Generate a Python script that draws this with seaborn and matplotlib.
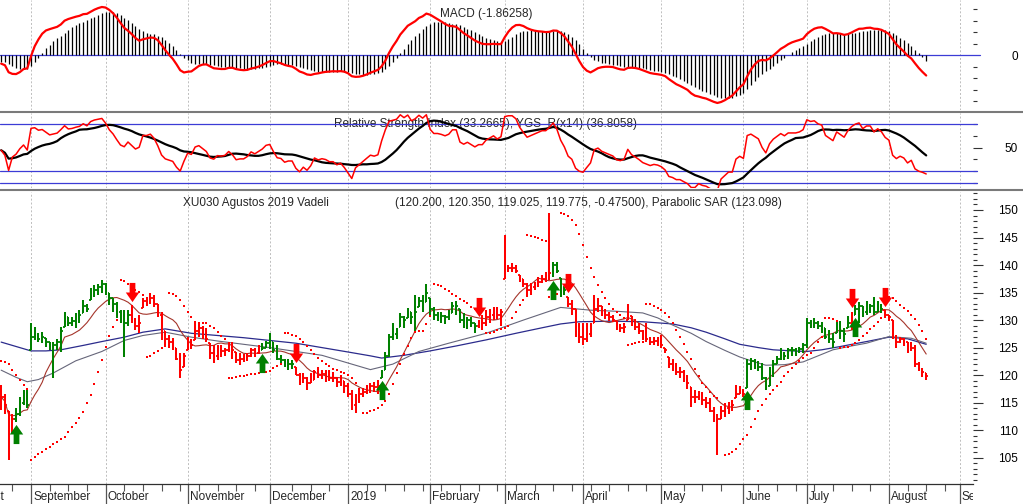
import matplotlib
matplotlib.use("Agg")
import matplotlib.pyplot as plt
import numpy as np
import pandas as pd
import seaborn as sns
from matplotlib.lines import Line2D
from matplotlib.path import Path
from matplotlib.transforms import offset_copy, Bbox, TransformedBbox

# daily bars, XU030 August 2019 future
close = [
    116.0, 114.5, 108.0, 112.0, 113.0, 115.0, 116.5, 114.5, 127.0, 127.5,
    126.5, 127.0, 126.0, 125.0, 125.5, 126.0, 128.0, 130.5, 129.5, 129.8,
    130.5, 131.0, 132.5, 132.0, 134.5, 135.5, 136.0, 136.5, 135.5, 134.0,
    133.0, 131.5, 130.0, 129.5, 131.0, 130.0, 129.0, 129.5, 133.5, 133.5,
    134.0, 133.0, 131.0, 128.0, 126.5, 126.0, 125.5, 123.0, 121.0, 123.5,
    126.0, 125.5, 128.0, 128.5, 127.5, 126.5, 124.0, 123.5, 124.5, 124.3,
    124.5, 125.5, 124.5, 122.8, 123.0, 123.0, 123.5, 124.5, 124.0, 124.5,
    125.0, 125.8, 126.0, 124.5, 123.0, 122.8, 121.8, 122.0, 122.0, 120.0,
    118.8, 119.5, 118.5, 119.2, 120.5, 120.0, 120.2, 120.0, 119.5, 119.5,
    118.8, 119.0, 118.0, 116.5, 114.5, 116.0, 116.5, 117.0, 117.5, 118.0,
    117.8, 118.0, 120.5, 123.5, 127.0, 127.5, 128.0, 130.5, 130.0, 131.5,
    130.5, 131.5, 133.5, 133.0, 135.0, 132.0, 131.0, 131.0, 130.8, 130.5,
    131.0, 132.5, 132.5, 130.0, 129.5, 130.0, 129.5, 129.0, 129.5, 129.5,
    130.5, 131.0, 131.5, 131.0, 131.5, 139.0, 139.5, 139.5, 139.0, 137.5,
    136.5, 135.5, 136.0, 136.5, 137.0, 137.5, 137.5, 138.5, 140.0, 139.0,
    137.0, 135.5, 133.0, 132.0, 128.5, 127.0, 126.5, 127.5, 128.5, 132.0,
    132.5, 131.5, 131.0, 130.5, 130.0, 128.8, 128.5, 128.8, 131.0, 129.5,
    128.8, 128.0, 127.0, 126.5, 126.0, 126.2, 126.0, 125.5, 124.5, 122.0,
    121.5, 120.5, 120.5, 119.5, 118.5, 116.0, 116.0, 116.5, 115.5, 115.0,
    113.5, 112.5, 112.0, 113.5, 114.0, 114.5, 114.5, 116.5, 117.0, 116.5,
    122.0, 122.5, 122.0, 121.5, 119.5, 118.0, 120.5, 122.0, 123.0, 124.0,
    123.5, 124.5, 124.5, 124.5, 124.8, 125.5, 129.5, 129.2, 129.5, 129.0,
    128.8, 127.0, 126.5, 126.0, 128.5, 128.0, 127.5, 129.5, 131.0, 132.0,
    132.5, 131.5, 132.5, 132.5, 131.5, 132.5, 132.0, 131.0, 130.5, 127.0,
    126.0, 126.5, 126.0, 124.5, 125.0, 122.0, 121.0, 120.5, 119.775,
]
high = [
    118.2, 116.5, 113.5, 113.0, 114.0, 116.0, 117.3, 117.3, 129.5, 128.8,
    127.7, 127.8, 126.8, 126.0, 126.0, 126.5, 128.8, 131.5, 130.5, 130.5,
    131.3, 131.8, 133.6, 133.0, 135.8, 136.4, 136.5, 137.3, 136.8, 135.0,
    134.0, 133.3, 131.8, 131.8, 131.8, 132.7, 130.4, 131.0, 134.0, 134.2,
    135.0, 134.5, 133.0, 131.5, 128.0, 127.2, 126.8, 125.0, 124.0, 124.0,
    127.0, 126.5, 129.5, 129.5, 129.0, 128.5, 125.8, 125.5, 125.5, 125.5,
    125.0, 126.0, 126.0, 124.2, 124.0, 123.8, 124.0, 125.0, 125.0, 125.5,
    125.8, 126.2, 127.7, 126.0, 125.5, 123.7, 123.0, 123.0, 122.8, 121.5,
    120.4, 120.4, 119.6, 120.4, 121.0, 121.5, 121.0, 120.9, 121.0, 120.5,
    119.6, 120.0, 119.0, 118.5, 117.3, 116.5, 117.5, 117.7, 118.2, 118.5,
    118.8, 119.1, 120.9, 124.2, 127.5, 129.5, 128.5, 131.3, 130.8, 132.2,
    131.5, 134.5, 134.2, 134.5, 136.5, 134.0, 132.4, 131.5, 131.5, 131.0,
    131.8, 133.3, 133.5, 132.0, 131.3, 130.5, 130.5, 129.5, 130.0, 130.5,
    131.8, 132.0, 132.4, 132.4, 132.0, 145.5, 140.0, 140.3, 140.0, 138.2,
    137.5, 136.8, 136.8, 137.0, 137.8, 138.2, 138.7, 149.5, 140.5, 140.5,
    137.6, 136.0, 134.2, 133.6, 132.0, 129.5, 129.5, 129.5, 129.5, 134.5,
    134.0, 132.5, 132.0, 131.5, 131.0, 129.8, 129.3, 129.5, 133.0, 130.8,
    130.2, 129.5, 128.2, 129.5, 127.0, 127.0, 127.0, 127.3, 125.0, 123.3,
    123.0, 122.2, 121.5, 121.0, 120.0, 117.8, 117.3, 117.2, 117.0, 116.0,
    115.8, 114.2, 113.0, 114.0, 115.0, 115.2, 115.5, 118.2, 118.0, 117.5,
    123.0, 123.2, 123.0, 122.5, 122.2, 119.6, 121.5, 122.7, 123.5, 125.0,
    124.2, 125.0, 125.2, 125.0, 125.2, 125.8, 130.4, 130.0, 130.4, 129.8,
    129.6, 128.5, 128.2, 127.7, 129.6, 129.8, 128.5, 130.8, 131.5, 132.8,
    133.3, 132.5, 133.5, 133.0, 134.2, 133.5, 133.0, 131.8, 131.0, 130.0,
    127.3, 127.0, 126.8, 126.0, 126.0, 125.5, 122.3, 121.3, 120.35,
]
low = [
    113.7, 113.0, 104.6, 109.5, 111.5, 112.5, 114.5, 114.0, 124.5, 126.4,
    126.0, 125.8, 125.1, 124.5, 119.5, 124.5, 124.2, 128.8, 128.9, 129.0,
    128.5, 129.5, 131.3, 131.5, 133.6, 134.2, 134.5, 135.0, 134.5, 132.7,
    131.5, 130.4, 129.4, 123.3, 129.0, 129.5, 128.2, 127.6, 132.2, 132.5,
    133.0, 132.4, 130.5, 126.4, 125.5, 125.0, 124.6, 122.7, 119.4, 121.5,
    124.6, 124.8, 126.4, 127.0, 126.5, 126.0, 123.0, 122.2, 122.8, 123.3,
    123.5, 124.2, 123.0, 122.2, 121.8, 122.3, 122.5, 123.3, 123.3, 123.8,
    124.5, 125.0, 124.8, 124.0, 122.7, 122.2, 121.5, 120.9, 121.2, 120.0,
    118.2, 118.5, 117.3, 118.5, 119.2, 119.5, 119.3, 118.8, 119.0, 118.8,
    117.8, 118.0, 116.8, 116.0, 113.7, 113.1, 115.0, 116.0, 116.5, 116.8,
    117.0, 116.5, 119.5, 121.0, 123.3, 126.4, 126.5, 128.8, 128.5, 130.4,
    129.3, 128.0, 132.4, 131.5, 133.3, 131.0, 130.0, 129.8, 129.5, 129.3,
    130.0, 131.3, 131.0, 129.5, 128.5, 128.3, 128.8, 127.6, 128.5, 128.2,
    129.0, 129.5, 130.0, 130.2, 129.0, 137.5, 138.7, 138.8, 138.5, 136.9,
    136.0, 134.2, 134.5, 135.5, 136.0, 136.8, 136.9, 137.3, 137.8, 138.5,
    134.2, 134.6, 132.4, 131.0, 127.0, 125.8, 125.5, 126.0, 127.0, 129.5,
    131.5, 130.8, 130.2, 129.8, 129.6, 128.2, 127.8, 127.6, 130.0, 129.0,
    128.2, 127.5, 126.4, 126.0, 125.5, 125.5, 125.3, 125.0, 124.0, 121.3,
    120.8, 120.0, 119.5, 118.7, 117.5, 114.2, 115.0, 115.5, 114.6, 114.0,
    113.3, 111.5, 105.5, 112.0, 112.4, 113.0, 113.5, 115.8, 116.5, 116.0,
    117.7, 121.0, 121.2, 120.8, 119.1, 117.3, 118.0, 119.6, 122.0, 122.7,
    122.7, 123.0, 123.5, 123.5, 124.0, 124.0, 125.0, 128.6, 128.5, 128.3,
    127.6, 126.6, 125.8, 125.0, 127.6, 126.5, 126.0, 128.5, 128.2, 131.0,
    129.5, 130.5, 131.0, 131.2, 131.0, 131.5, 131.2, 130.4, 129.8, 126.5,
    125.0, 125.8, 125.3, 124.0, 124.3, 121.5, 120.8, 119.6, 119.025,
]

# system signals (arrows), bar index
buy_signals = [4, 70, 102, 148, 200, 229]
sell_signals = [35, 79, 128, 152, 228, 237]

# slower moving averages, sampled off the chart
slow_ma_idx = [0, 4, 8, 12, 16, 22, 27, 33, 38, 44, 51, 58, 65, 72, 79, 86, 93,
               99, 102, 108, 115, 122, 130, 138, 145, 150, 155, 164, 172, 180,
               185, 189, 194, 198, 203, 207, 212, 216, 220, 225, 232, 238, 243, 248]
slow_ma = [126.0, 125.2, 124.4, 124.4, 124.6, 125.4, 126.1, 126.9, 127.8, 128.4,
           127.6, 127.2, 126.8, 126.3, 125.8, 125.0, 124.2, 123.5, 123.1, 123.6,
           124.4, 125.3, 126.4, 127.6, 128.6, 129.3, 129.7, 129.8, 129.7, 129.3,
           128.6, 127.8, 126.6, 125.6, 125.0, 124.6, 124.4, 124.3, 124.6, 125.2,
           126.1, 126.9, 126.6, 125.6]
mid_ma_idx = [0, 4, 7, 10, 14, 20, 27, 33, 38, 44, 51, 58, 65, 72, 79, 86, 93,
              99, 105, 112, 120, 130, 140, 150, 158, 165, 172, 176, 180, 185, 189,
              194, 198, 202, 205, 210, 215, 219, 223, 228, 232, 238, 244, 248]
mid_ma = [120.9, 119.6, 118.8, 119.2, 120.4, 122.6, 124.3, 126.3, 127.2, 127.8,
          126.9, 126.2, 125.6, 125.0, 124.3, 123.6, 122.2, 121.0, 122.0, 124.3,
          125.8, 127.6, 130.0, 132.3, 131.8, 131.6, 131.3, 130.4, 129.1, 127.6,
          126.1, 124.5, 123.3, 122.4, 121.8, 121.9, 122.4, 123.5, 124.6, 125.3,
          125.8, 127.0, 126.7, 125.8]

month_idx = [-9.5, 8, 28, 50, 72, 93, 115, 135, 156, 177, 199, 216, 238, 257]
month_labels = ["August", "September", "October", "November", "December", "2019",
                "February", "March", "April", "May", "June", "July", "August",
                "September"]

assert len(close) == len(high) == len(low)
n = len(close)
x = np.arange(n)
close_a, high_a, low_a = np.array(close), np.array(high), np.array(low)


def ema(values, span, seed):
    k = 2.0 / (span + 1)
    out, prev = [], seed
    for v in values:
        prev = prev + k * (v - prev)
        out.append(prev)
    return np.array(out)


def wilder_rsi(values, period=14, gain0=0.55, loss0=0.6):
    g, l = gain0, loss0
    out = [100 * g / (g + l)]
    for i in range(1, len(values)):
        d = values[i] - values[i - 1]
        g = (g * (period - 1) + max(d, 0)) / period
        l = (l * (period - 1) + max(-d, 0)) / period
        out.append(100 * g / (g + l))
    return np.array(out)


def parabolic_sar(hi, lo, sar0, ep0, af0, step=0.02, af_max=0.2):
    sar = np.empty(len(hi))
    sar[0] = sar0
    ep, af, up = ep0, af0, False
    for i in range(1, len(hi)):
        s = sar[i - 1] + af * (ep - sar[i - 1])
        j = max(i - 2, 0)
        if up:
            s = min(s, lo[i - 1], lo[j])
            if lo[i] < s:
                up, s, ep, af = False, ep, lo[i], step
            elif hi[i] > ep:
                ep, af = hi[i], min(af + step, af_max)
        else:
            s = max(s, hi[i - 1], hi[j])
            if hi[i] > s:
                up, s, ep, af = True, ep, hi[i], step
            elif lo[i] < ep:
                ep, af = lo[i], min(af + step, af_max)
        sar[i] = s
    return sar


macd = ema(close, 12, 117.0) - ema(close, 26, 117.7)
signal = ema(macd, 9, -0.5)
rsi = wilder_rsi(close)
rsi_avg = pd.Series(rsi).rolling(14, min_periods=1).mean().to_numpy()
fast_ma = pd.Series(close).rolling(10, min_periods=1).mean().to_numpy()
sar = parabolic_sar(high_a, low_a, 122.6, 113.7, 0.02)
opens = np.clip(np.r_[close_a[0], close_a[:-1]], low_a, high_a)

GREEN, RED = "#008000", "#ff0000"
bar_colors, state = [], RED
for i in range(n):
    if i in buy_signals:
        state = GREEN
    if i in sell_signals:
        state = RED
    bar_colors.append(state)

W, H, RIGHT = 1023, 504, 973
sns.set_style("white")
plt.rcParams["font.family"] = ["Liberation Sans", "DejaVu Sans"]
plt.rcParams["font.size"] = 8.5

fig = plt.figure(figsize=(W / 100, H / 100), dpi=100)


def add_panel(top, bottom):
    return fig.add_axes([0, 1 - bottom / H, RIGHT / W, (bottom - top) / H])


ax_macd = add_panel(0, 110)
ax_rsi = add_panel(113, 188)
ax_px = add_panel(192, 484)

line_blue = "#3c3cd6"
grid_col = "#bdbdbd"
xlim = (-1.16 / 3.73, (RIGHT - 1.16) / 3.73)

for ax in (ax_macd, ax_rsi, ax_px):
    for sp in ax.spines.values():
        sp.set_visible(False)
    for m in month_idx:
        ax.axvline(m, color=grid_col, lw=0.7, ls=(0, (2, 2)), zorder=0)
    ax.yaxis.tick_right()
    ax.tick_params(axis="y", which="both", direction="out", color="#333333",
                   width=0.8, labelcolor="black", labelsize=8.5)

# MACD
ax_macd.axhline(0, xmax=980 / RIGHT, clip_on=False, color=line_blue, lw=0.9, zorder=1)
ax_macd.vlines(x, 0, signal, color="black", lw=0.9, zorder=2)
sns.lineplot(x=x, y=macd, ax=ax_macd, color=RED, linewidth=1.6, zorder=3)
ax_macd.set_ylim(-4.76, 4.81)
ax_macd.set_yticks([0])
ax_macd.set_yticklabels(["0"])
ax_macd.set_yticks([-4, -3, -2, -1, 1, 2, 3, 4], minor=True)
ax_macd.tick_params(axis="y", which="major", length=0, pad=32.4)
ax_macd.tick_params(axis="y", which="minor", length=3)
ax_macd.text(0.5, (110 - 16.7) / 110, "MACD (-1.86258)", transform=ax_macd.transAxes,
             ha="center", va="baseline", zorder=1.5)

# RSI
for lvl in (70, 30, 20):
    ax_rsi.axhline(lvl, xmax=977 / RIGHT, clip_on=False, color=line_blue, lw=0.9, zorder=2)
sns.lineplot(x=x, y=rsi_avg, ax=ax_rsi, color="black", linewidth=1.6, zorder=3)
sns.lineplot(x=x, y=rsi, ax=ax_rsi, color=RED, linewidth=1.1, zorder=4)
ax_rsi.set_ylim(15.3, 79.9)
ax_rsi.set_yticks([50])
ax_rsi.set_yticklabels(["50"])
ax_rsi.set_yticks([20, 30, 40, 60, 70], minor=True)
ax_rsi.tick_params(axis="y", which="major", length=6.5, pad=25.9)
ax_rsi.tick_params(axis="y", which="minor", length=3)
ax_rsi.text(486 / RIGHT, (188 - 126.5) / 75,
            "Relative Strength Index (33.2665), YGS_R(x14) (36.8058)",
            transform=ax_rsi.transAxes, ha="center", va="baseline", zorder=1.5)

# price
sns.lineplot(x=slow_ma_idx, y=slow_ma, ax=ax_px, color="#2b2b8c", linewidth=0.9, zorder=2)
sns.lineplot(x=mid_ma_idx, y=mid_ma, ax=ax_px, color="#66667a", linewidth=0.8, zorder=2)
sns.lineplot(x=x, y=fast_ma, ax=ax_px, color="#a5352b", linewidth=0.8, zorder=2)
ax_px.vlines(x, low, high, colors=bar_colors, lw=1.45, zorder=3)
ax_px.hlines(opens, x - 0.45, x, colors=bar_colors, lw=1.3, zorder=3)
ax_px.hlines(close, x, x + 0.45, colors=bar_colors, lw=1.3, zorder=3)
ax_px.scatter(x, sar, marker="s", s=3.6, color=RED, linewidths=0, zorder=4)

up_arrow = Path([(-0.3, -1), (0.3, -1), (0.3, 0), (0.7, 0), (0, 1), (-0.7, 0),
                 (-0.3, 0), (-0.3, -1)], closed=True)
down_arrow = Path([(px, -py) for px, py in up_arrow.vertices], closed=True)
ax_px.scatter(buy_signals, low_a[buy_signals], marker=up_arrow, s=190, color=GREEN,
              linewidths=0, zorder=5,
              transform=offset_copy(ax_px.transData, fig=fig, y=-12.5, units="dots"))
ax_px.scatter(sell_signals, high_a[sell_signals], marker=down_arrow, s=190, color=RED,
              linewidths=0, zorder=5,
              transform=offset_copy(ax_px.transData, fig=fig, y=13.5, units="dots"))

ax_px.set_ylim(100.22, 153.27)
ax_px.set_yticks(list(range(105, 151, 5)))
ax_px.set_yticks(list(range(101, 154)), minor=True)
ax_px.tick_params(axis="y", which="major", length=7.2, pad=25.2)
ax_px.tick_params(axis="y", which="minor", length=2.9)
ax_px.text(183 / RIGHT, (484 - 205.7) / 292, "XU030 Agustos 2019 Vadeli",
           transform=ax_px.transAxes, ha="left", va="baseline", zorder=1.5)
ax_px.text(395 / RIGHT, (484 - 205.7) / 292,
           "(120.200, 120.350, 119.025, 119.775, -0.47500), Parabolic SAR (123.098)",
           transform=ax_px.transAxes, ha="left", va="baseline", zorder=1.5)

ax_px.spines["bottom"].set_visible(True)
ax_px.spines["bottom"].set_color("#303030")
ax_px.spines["bottom"].set_linewidth(0.9)
week_ticks = [i for i in range(3, 261, 5) if min(abs(i - m) for m in month_idx) > 1.5]
ax_px.set_xticks(month_idx)
ax_px.set_xticks(week_ticks, minor=True)
ax_px.set_xticklabels([])
ax_px.tick_params(axis="x", which="major", length=14.5, width=0.9, color="#555555",
                  direction="out", bottom=True)
ax_px.tick_params(axis="x", which="minor", length=5, width=0.8, color="#555555",
                  direction="out", bottom=True)

# month names sit right of their tick; the last one is cut at the plot edge
clip = TransformedBbox(Bbox.from_extents(0, 0, RIGHT / W, 1), fig.transFigure)
for m, lab in zip(month_idx, month_labels):
    t = fig.text(m + 0.55, (484 - 500) / 292, lab, transform=ax_px.get_xaxis_transform(),
                 ha="left", va="baseline")
    t.set_clip_box(clip)
    t.set_clip_on(True)

for ax in (ax_macd, ax_rsi, ax_px):
    ax.set_xlim(*xlim)
    ax.set_xlabel("")
    ax.set_ylabel("")
    if ax is not ax_px:
        ax.set_xticks([])
    for lbl in ax.get_yticklabels():
        lbl.set_horizontalalignment("right")

for ypx in (111.5, 189.5):
    fig.add_artist(Line2D([0, 1], [1 - ypx / H] * 2, transform=fig.transFigure,
                          color="#7a7a7a", lw=1.5))

fig.savefig("out.png", dpi=100)
